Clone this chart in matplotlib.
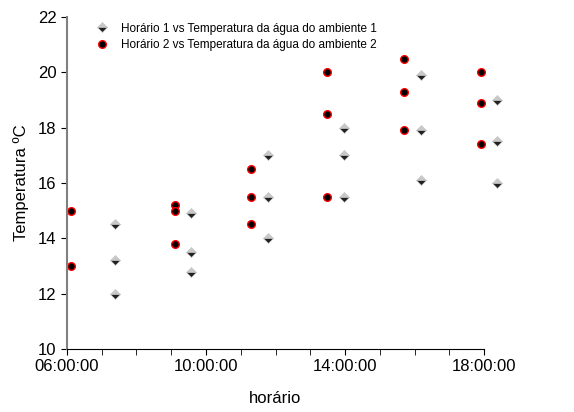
import matplotlib.pyplot as plt
from matplotlib.ticker import FixedLocator, MultipleLocator, FuncFormatter

plt.rcParams['font.family'] = ['Liberation Sans', 'DejaVu Sans']

# times (HH:MM) and temperatures
horario_1 = ["07:23", "07:23", "07:23", "09:34", "09:34", "09:34",
             "11:47", "11:47", "11:47", "13:58", "13:58", "13:58",
             "16:11", "16:11", "16:11", "18:22", "18:22", "18:22"]
temp_1 = [14.5, 13.2, 12.0, 14.9, 13.5, 12.8,
          17.0, 15.5, 14.0, 18.0, 17.0, 15.5,
          19.9, 17.9, 16.1, 19.0, 17.5, 16.0]

horario_2 = ["06:07", "06:07", "09:06", "09:06", "09:06",
             "11:17", "11:17", "11:17", "13:29", "13:29", "13:29",
             "15:42", "15:42", "15:42", "17:55", "17:55", "17:55"]
temp_2 = [15.0, 13.0, 15.2, 15.0, 13.8,
          16.5, 15.5, 14.5, 20.0, 18.5, 15.5,
          20.5, 19.3, 17.9, 20.0, 18.9, 17.4]

x_ticks = [6, 10, 14, 18]


def to_hours(t):
    h, m = t.split(":")
    return int(h) + int(m) / 60


x1 = [to_hours(t) for t in horario_1]
x2 = [to_hours(t) for t in horario_2]

fig = plt.figure(figsize=(5.74, 4.12), dpi=100)
ax = fig.add_axes([67 / 574, 63 / 412, 417 / 574, 332 / 412])

ax.plot(x1, temp_1, linestyle="none", marker="D", markersize=5.5,
        fillstyle="top", markerfacecolor="#c8c8c8",
        markerfacecoloralt="#202020", markeredgecolor="#c8c8c8",
        markeredgewidth=0.5, clip_on=False,
        label="Horário 1 vs Temperatura da água do ambiente 1")
ax.plot(x2, temp_2, linestyle="none", marker="o", markersize=5.5,
        markerfacecolor="black", markeredgecolor="red",
        markeredgewidth=1, clip_on=False,
        label="Horário 2 vs Temperatura da água do ambiente 2")

ax.set_xlim(6, 18)
ax.set_ylim(10, 22)
ax.xaxis.set_major_locator(FixedLocator(x_ticks))
ax.xaxis.set_minor_locator(MultipleLocator(1))
ax.xaxis.set_major_formatter(FuncFormatter(lambda v, p: f"{int(v):02d}:00:00"))
ax.yaxis.set_major_locator(MultipleLocator(2))

for s in ["top", "right"]:
    ax.spines[s].set_visible(False)
ax.spines["left"].set_color("#808080")
ax.spines["left"].set_linewidth(1.5)
ax.tick_params(axis="both", labelsize=12, length=4, color="black")
ax.tick_params(axis="x", which="minor", length=4)

ax.set_xlabel("horário", fontsize=12, labelpad=12)
ax.set_ylabel("Temperatura ºC", fontsize=12, labelpad=6)

fig.legend(loc="upper left", bbox_to_anchor=(84 / 574, 1 - 12 / 412),
           frameon=False, fontsize=8.5, handletextpad=1.0,
           labelspacing=0.35, handlelength=1.2)

plt.savefig("out.png", dpi=100)
